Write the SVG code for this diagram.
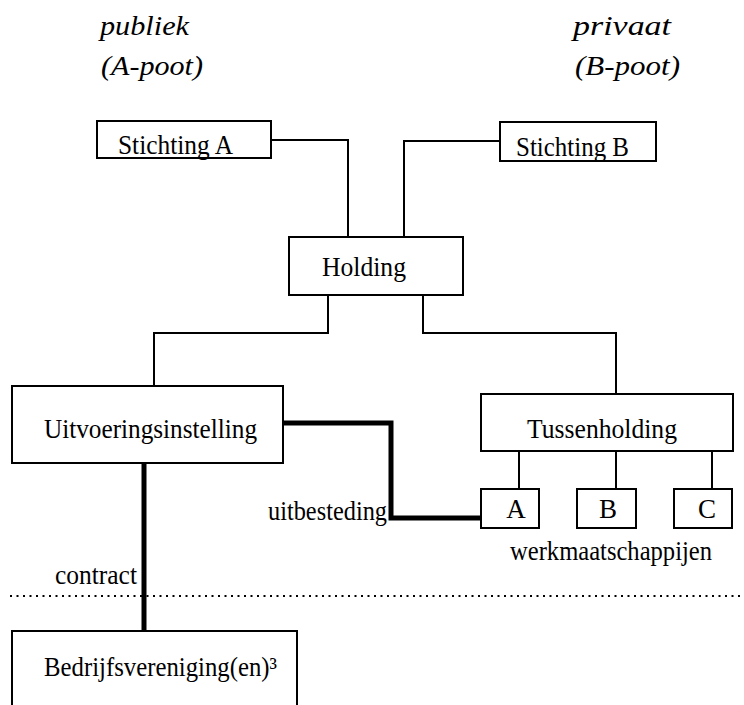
<svg xmlns="http://www.w3.org/2000/svg" width="744" height="705" viewBox="0 0 744 705">
<style>
  .box { fill: #fff; stroke: #000; stroke-width: 2; }
  .t { font-family: "Liberation Serif", "Times New Roman", serif; font-size: 27px; fill: #000; }
  .h { font-family: "Liberation Serif", "Times New Roman", serif; font-size: 28px; font-style: italic; fill: #000; }
  .thin { fill: none; stroke: #000; stroke-width: 2; }
  .thick { fill: none; stroke: #000; stroke-width: 5; }
  .dot { fill: none; stroke: #000; stroke-width: 2; stroke-dasharray: 2 4.5; }
</style>
<rect width="744" height="705" fill="#fff"/>
<g id="headers">
  <text class="h" x="100" y="35" textLength="89" lengthAdjust="spacingAndGlyphs">publiek</text>
  <text class="h" x="101" y="75" textLength="102" lengthAdjust="spacingAndGlyphs">(A-poot)</text>
  <text class="h" x="573" y="35" textLength="98" lengthAdjust="spacingAndGlyphs">privaat</text>
  <text class="h" x="575" y="75" textLength="105" lengthAdjust="spacingAndGlyphs">(B-poot)</text>
</g>
<g id="connectors">
  <path class="thin" d="M271,140 H348 V237"/>
  <path class="thin" d="M500,141 H404 V237"/>
  <path class="thin" d="M328,295 V333 H154 V386"/>
  <path class="thin" d="M423,295 V333 H616 V394"/>
  <path class="thin" d="M519,451 V489"/>
  <path class="thin" d="M616,451 V489"/>
  <path class="thin" d="M712,451 V489"/>
  <path class="thick" d="M283,423 H391 V518 H481"/>
  <path class="thick" d="M144,463 V631"/>
  <text class="t" x="268" y="520" textLength="119" lengthAdjust="spacingAndGlyphs">uitbesteding</text>
  <text class="t" x="55" y="584" textLength="82" lengthAdjust="spacingAndGlyphs">contract</text>
</g>
<g id="divider">
  <line class="dot" x1="10" y1="596" x2="744" y2="596"/>
</g>
<g id="stichting-a">
  <rect class="box" x="97" y="121" width="174" height="37"/>
  <text class="t" x="118" y="154" textLength="115" lengthAdjust="spacingAndGlyphs">Stichting A</text>
</g>
<g id="stichting-b">
  <rect class="box" x="500" y="122" width="156" height="39"/>
  <text class="t" x="516" y="156" textLength="113" lengthAdjust="spacingAndGlyphs">Stichting B</text>
</g>
<g id="holding">
  <rect class="box" x="289" y="237" width="174" height="58"/>
  <text class="t" x="322" y="276" textLength="84" lengthAdjust="spacingAndGlyphs">Holding</text>
</g>
<g id="uitvoeringsinstelling">
  <rect class="box" x="12" y="386" width="271" height="77"/>
  <text class="t" x="44" y="438" textLength="213" lengthAdjust="spacingAndGlyphs">Uitvoeringsinstelling</text>
</g>
<g id="tussenholding">
  <rect class="box" x="481" y="394" width="252" height="57"/>
  <text class="t" x="527" y="438" textLength="150" lengthAdjust="spacingAndGlyphs">Tussenholding</text>
</g>
<g id="werk-a">
  <rect class="box" x="481" y="489" width="58" height="39"/>
  <text class="t" x="516" y="518" text-anchor="middle">A</text>
</g>
<g id="werk-b">
  <rect class="box" x="577" y="489" width="59" height="39"/>
  <text class="t" x="608" y="518" text-anchor="middle">B</text>
</g>
<g id="werk-c">
  <rect class="box" x="674" y="489" width="58" height="39"/>
  <text class="t" x="707" y="518" text-anchor="middle">C</text>
</g>
<g id="werkmaatschappijen-label">
  <text class="t" x="510" y="560" textLength="202" lengthAdjust="spacingAndGlyphs">werkmaatschappijen</text>
</g>
<g id="bedrijfsvereniging">
  <rect class="box" x="12" y="631" width="285" height="80"/>
  <text class="t" x="44" y="676" textLength="233" lengthAdjust="spacingAndGlyphs">Bedrijfsvereniging(en)³</text>
</g>
</svg>
